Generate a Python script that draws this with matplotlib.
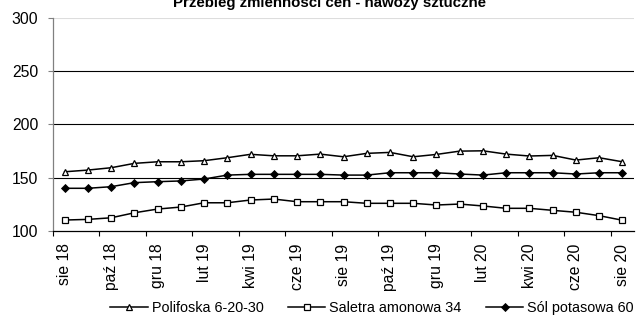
import matplotlib
matplotlib.use("Agg")
import matplotlib.pyplot as plt
import numpy as np

plt.rcParams['font.family'] = ['Liberation Sans', 'DejaVu Sans']

months = ["sie 18", "wrz 18", "paź 18", "lis 18", "gru 18", "sty 19", "lut 19", "mar 19",
          "kwi 19", "maj 19", "cze 19", "lip 19", "sie 19", "wrz 19", "paź 19", "lis 19",
          "gru 19", "sty 20", "lut 20", "mar 20", "kwi 20", "maj 20", "cze 20", "lip 20", "sie 20"]

polifoska = [155.6, 157.2, 159.4, 163.5, 165.0, 165.0, 166.0, 168.8, 172.0, 170.6, 170.6, 172.2,
             169.7, 172.9, 173.8, 169.7, 171.9, 175.0, 175.3, 172.2, 170.4, 171.0, 166.6, 168.8, 165.0]
saletra = [110.3, 110.9, 112.4, 117.1, 120.6, 122.5, 126.5, 126.5, 129.1, 130.0, 127.5, 127.5,
           127.5, 126.0, 126.0, 126.0, 124.4, 125.3, 123.5, 121.3, 121.3, 119.4, 117.6, 114.4, 110.1]
sol = [140.1, 140.1, 141.6, 145.4, 146.3, 147.0, 148.8, 152.5, 153.2, 153.2, 153.2, 153.2,
       152.5, 152.5, 154.7, 154.7, 154.7, 153.5, 152.5, 154.7, 154.7, 154.7, 153.5, 154.7, 154.7]

series_names = ["Polifoska 6-20-30", "Saletra amonowa 34", "Sól potasowa 60"]
title = "Przebieg zmienności cen - nawozy sztuczne"
yticks = [100, 150, 200, 250, 300]

W, H = 637, 315
fig = plt.figure(figsize=(W / 100, H / 100), dpi=100)
ax = fig.add_axes([53 / W, 1 - 231 / H, (634 - 53) / W, (231 - 18) / H])

x = np.arange(len(months))
lw = 1.1
ax.plot(x, polifoska, color='black', lw=lw, marker='^', ms=5, mfc='white', mec='black', mew=0.9,
        label=series_names[0], zorder=3)
ax.plot(x, saletra, color='black', lw=lw, marker='s', ms=5, mfc='white', mec='black', mew=0.9,
        label=series_names[1], zorder=3)
ax.plot(x, sol, color='black', lw=lw, marker='D', ms=4.2, mfc='black', mec='black', mew=0.6,
        label=series_names[2], zorder=3)

ax.set_xlim(-0.5, len(months) - 0.5)
ax.set_ylim(100, 300)

# gridlines
for yv in yticks[1:-1]:
    ax.axhline(yv, color='black', lw=0.8, zorder=1)
ax.axhline(300, color='#dddddd', lw=0.8, zorder=1)

for s in ['top', 'right']:
    ax.spines[s].set_visible(False)
ax.spines['left'].set_color('#808080')
ax.spines['left'].set_linewidth(0.9)
ax.spines['bottom'].set_color('black')
ax.spines['bottom'].set_linewidth(0.9)

ax.set_yticks(yticks)
ax.set_yticklabels([str(v) for v in yticks])
ax.tick_params(axis='y', direction='out', length=3.6, width=0.8, color='#808080',
               pad=7, labelsize=11.3)

# major ticks at category boundaries every 2 categories, labels on every other category
ax.set_xticks(np.arange(-0.5, len(months), 2))
ax.set_xticklabels([])
ax.set_xticks(x[::2], minor=True)
ax.set_xticklabels(months[::2], minor=True, rotation=90, fontsize=11.3)
ax.tick_params(axis='x', which='major', direction='out', length=3.6, width=0.8, color='black')
ax.tick_params(axis='x', which='minor', length=0, pad=9)

fig.text(330 / W, 1 - 7 / H, title, ha='center', va='baseline', fontsize=10.8, fontweight='bold')

leg = fig.legend(loc='center', bbox_to_anchor=(372 / W, 1 - 308 / H), ncol=3, frameon=False,
                 fontsize=10.4, handlelength=2.6, handletextpad=0.25, columnspacing=1.7,
                 borderaxespad=0, borderpad=0)

fig.savefig("out.png", dpi=100)
